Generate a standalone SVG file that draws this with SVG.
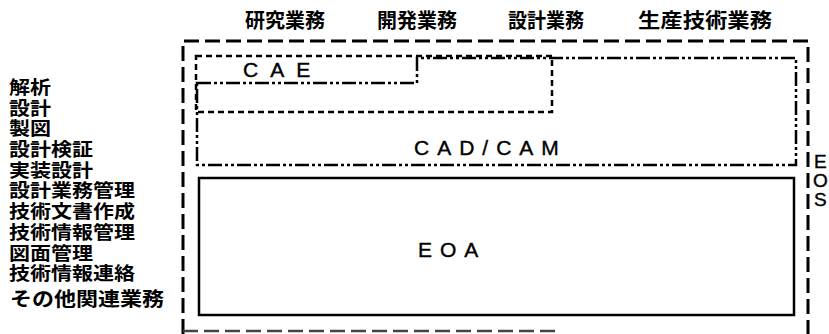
<svg xmlns="http://www.w3.org/2000/svg" width="829" height="334" viewBox="0 0 829 334">
<style>
.jp{font-family:"Noto Sans CJK JP","Noto Sans CJK SC",sans-serif;font-weight:bold;fill:#000}
.top{font-size:20px}
.left{font-size:21px}
.lat{font-family:"Liberation Sans",Arial,sans-serif;font-size:21px;fill:#000;stroke:#000;stroke-width:0.4}
.outer{fill:none;stroke:#000;stroke-width:3;stroke-dasharray:15 6}
.cae{fill:none;stroke:#000;stroke-width:2.5;stroke-dasharray:6 4}
.cad{fill:none;stroke:#000;stroke-width:2.5;stroke-dasharray:14 3 3 3 3 3}
.eoa{fill:none;stroke:#000;stroke-width:2.5}
</style>
<rect width="829" height="334" fill="#fff"/>
<g id="top-labels" class="jp top">
<text x="245" y="28" textLength="80" lengthAdjust="spacingAndGlyphs">研究業務</text>
<text x="377" y="28" textLength="80" lengthAdjust="spacingAndGlyphs">開発業務</text>
<text x="508" y="28" textLength="76" lengthAdjust="spacingAndGlyphs">設計業務</text>
<text x="638" y="28" textLength="134" lengthAdjust="spacingAndGlyphs">生産技術業務</text>
</g>
<g id="left-labels" class="jp left" transform="scale(1,0.88)">
<text x="9" y="106.8">解析</text>
<text x="9" y="130.3">設計</text>
<text x="9" y="153.9">製図</text>
<text x="9" y="177.4">設計検証</text>
<text x="9" y="200.9">実装設計</text>
<text x="9" y="224.4">設計業務管理</text>
<text x="9" y="248.0">技術文書作成</text>
<text x="9" y="271.5">技術情報管理</text>
<text x="9" y="295.0">図面管理</text>
<text x="9" y="318.5">技術情報連絡</text>
<text x="10" y="347.7" style="font-size:22px">その他関連業務</text>
</g>
<g id="eos">
<path class="outer" d="M183,334 V41 H808 V334"/>
<path class="outer" d="M183,331 H560" style="stroke:#444;stroke-width:2.5"/>
<text class="lat" x="814" y="168" style="font-size:19px">E</text>
<text class="lat" x="813" y="187" style="font-size:19px">O</text>
<text class="lat" x="814" y="206" style="font-size:19px">S</text>
</g>
<g id="cae">
<rect class="cae" x="196" y="56" width="356" height="56"/>
<text class="lat" x="243" y="77" letter-spacing="12">CAE</text>
</g>
<g id="cadcam">
<path class="cad" d="M197,83 H417 V58 H796 V165 H197 Z"/>
<text class="lat" x="414" y="155" letter-spacing="8">CAD/CAM</text>
</g>
<g id="eoa">
<rect class="eoa" x="199" y="178" width="595" height="137"/>
<text class="lat" x="418" y="257" letter-spacing="8">EOA</text>
</g>
<g id="connectors"></g>
</svg>
